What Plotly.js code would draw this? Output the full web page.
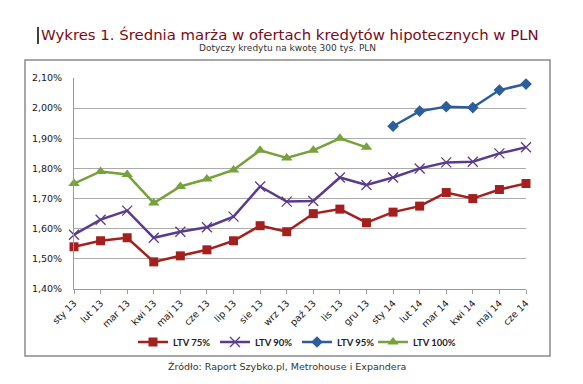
<!DOCTYPE html>
<html>
<head>
<meta charset="utf-8">
<script src="https://cdn.plot.ly/plotly-3.0.1.min.js"></script>
<style>html,body{margin:0;padding:0;background:#fff;}#chart{width:583px;height:384px;}</style>
</head>
<body>
<div id="chart"></div>
<script>
const categories = ['sty 13','lut 13','mar 13','kwi 13','maj 13','cze 13','lip 13','sie 13','wrz 13','paź 13','lis 13','gru 13','sty 14','lut 14','mar 14','kwi 14','maj 14','cze 14'];
const ltv75 = [1.54,1.56,1.57,1.49,1.51,1.53,1.56,1.61,1.59,1.65,1.665,1.62,1.655,1.675,1.72,1.70,1.73,1.75];
const ltv90 = [1.58,1.63,1.66,1.57,1.59,1.605,1.64,1.74,1.69,1.692,1.77,1.745,1.77,1.80,1.82,1.822,1.85,1.87];
const ltv95 = [null,null,null,null,null,null,null,null,null,null,null,null,1.94,1.99,2.005,2.002,2.06,2.08];
const ltv100 = [1.75,1.79,1.78,1.685,1.74,1.765,1.795,1.86,1.835,1.86,1.90,1.87,null,null,null,null,null,null];
const seriesNames = ['LTV 75%','LTV 90%','LTV 95%','LTV 100%'];
const yTicks = [1.40,1.50,1.60,1.70,1.80,1.90,2.00,2.10];
const yTickText = ['1,40%','1,50%','1,60%','1,70%','1,80%','1,90%','2,00%','2,10%'];

// pixel helpers for plot area (left 74, right 526, top 78, bottom 289)
const PL=74, PR=526, PT=78, PB=289;
const px = x => (x-PL)/(PR-PL);
const py = y => (PB-y)/(PB-PT);

const traces = [
  {name: seriesNames[0], x: categories, y: ltv75, type:'scatter', mode:'lines+markers',
   line:{color:'#a3201f', width:2.5}, marker:{symbol:'square', size:9, color:'#a3201f'}, cliponaxis:false},
  {name: seriesNames[1], x: categories, y: ltv90, type:'scatter', mode:'lines+markers',
   line:{color:'#5b3b8c', width:2.5}, marker:{symbol:'x-thin-open', size:10, color:'#5b3b8c', line:{color:'#5b3b8c', width:1.3}}, cliponaxis:false},
  {name: seriesNames[2], x: categories, y: ltv95, type:'scatter', mode:'lines+markers',
   line:{color:'#2c5d9c', width:2.5}, marker:{symbol:'diamond', size:9, color:'#2c5d9c'}, cliponaxis:false},
  {name: seriesNames[3], x: categories, y: ltv100, type:'scatter', mode:'lines+markers', legend:'legend2',
   line:{color:'#75a23a', width:2.5}, marker:{symbol:'triangle-up', size:10, color:'#75a23a'}, cliponaxis:false}
];

const legendFont = {family:'Lato, sans-serif', size:9.5, color:'#222', weight:'bold'};

const layout = {
  width:583, height:384,
  margin:{l:PL, r:583-PR, t:PT, b:384-PB, pad:0},
  paper_bgcolor:'#fff', plot_bgcolor:'#fff',
  showlegend:true,
  font:{family:'DejaVu Sans, sans-serif', color:'#222'},
  title:{text:'Wykres 1. Średnia marża w ofertach kredytów hipotecznych w PLN',
         x:41/583, xref:'container', xanchor:'left', y:1-35/384, yref:'container', yanchor:'middle',
         font:{family:'DejaVu Sans, sans-serif', size:14.9, color:'#7a0a16'}},
  xaxis:{type:'category', range:[0,17], showgrid:false, showline:true, linecolor:'#9a9a9a', linewidth:1,
         ticks:'outside', ticklen:4, tickcolor:'#9a9a9a', tickangle:-45,
         tickfont:{family:'DejaVu Sans, sans-serif', size:9.5, color:'#151515'}, fixedrange:true, zeroline:false},
  yaxis:{range:[1.40,2.10], tickmode:'array', tickvals:yTicks, ticktext:yTickText,
         showgrid:true, gridcolor:'#ababab', gridwidth:1, showline:true, linecolor:'#9a9a9a', linewidth:1,
         ticks:'', ticklabelstandoff:9, zeroline:false,
         tickfont:{family:'DejaVu Sans, sans-serif', size:9.5, color:'#151515'}, fixedrange:true},
  legend:{orientation:'h', x:px(133), xanchor:'left', y:py(342), yanchor:'middle',
          font:legendFont, itemwidth:30, entrywidth:37, entrywidthmode:'pixels',
          bgcolor:'rgba(0,0,0,0)', tracegroupgap:0},
  legend2:{orientation:'h', x:px(373), xanchor:'left', y:py(342), yanchor:'middle',
          font:legendFont, itemwidth:30, bgcolor:'rgba(0,0,0,0)', tracegroupgap:0},
  annotations:[
    {text:'Dotyczy kredytu na kwotę 300 tys. PLN', xref:'paper', yref:'paper', x:px(287), y:py(48),
     xanchor:'center', yanchor:'middle', showarrow:false,
     font:{family:'DejaVu Sans, sans-serif', size:9, color:'#333'}},
    {text:'Źródło: Raport Szybko.pl, Metrohouse i Expandera', xref:'paper', yref:'paper', x:px(287), y:py(366),
     xanchor:'center', yanchor:'middle', showarrow:false,
     font:{family:'DejaVu Sans, sans-serif', size:9.5, color:'#333'}}
  ],
  shapes:[
    {type:'rect', xref:'paper', yref:'paper', x0:px(25), x1:px(550), y0:py(356), y1:py(60),
     line:{color:'#8a8a8a', width:1.5}, fillcolor:'rgba(0,0,0,0)', layer:'below'},
    {type:'line', xref:'paper', yref:'paper', x0:px(38), x1:px(38), y0:py(27), y1:py(44),
     line:{color:'#000', width:1.5}}
  ]
};

Plotly.newPlot('chart', traces, layout, {displayModeBar:false, staticPlot:true});
</script>
</body>
</html>
